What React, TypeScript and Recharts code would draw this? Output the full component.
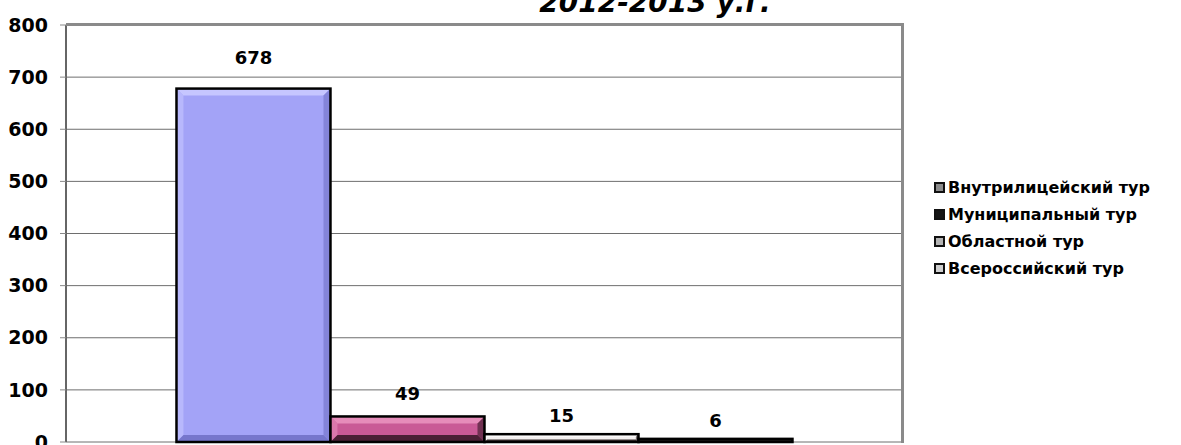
import React from 'react';
import { BarChart, Bar, XAxis, YAxis, CartesianGrid, LabelList } from 'recharts';

const categories = ['2012-2013 у.г.'];
const seriesKeys = ['vnutr', 'munic', 'oblast', 'vseros'];
const seriesNames = ['Внутрилицейский тур', 'Муниципальный тур', 'Областной тур', 'Всероссийский тур'];
const seriesValues = [678, 49, 15, 6];
const yTicks = [0, 100, 200, 300, 400, 500, 600, 700, 800];

// base / highlight / shadow for each bar
const BAR_COLORS = [
  ['#a3a3f7', '#c6c6ff', '#7676cc'],
  ['#c95a96', '#e68cba', '#4a2035'],
  ['#f4f0f0', '#ffffff', '#3a3030'],
  ['#1c1c1c', '#3a3a3a', '#000000'],
];
const LEGEND_ICON = ['#8c8c8c', '#151515', '#b4b4b4', '#cfcfcf'];
const LABEL_OFFSET = [25, 16, 12, 12];

const data = categories.map((name) => {
  const row: Record<string, string | number> = { name };
  seriesKeys.forEach((k, i) => { row[k] = seriesValues[i]; });
  return row;
});

const FONT = '"DejaVu Sans", Arial, sans-serif';

const BevelBar = (props: any) => {
  const { x, y, width: w, height: h, light, dark, base } = props;
  if (!h || h <= 0) return null;
  const b = Math.min(7, h / 3);
  return (
    <g>
      <rect x={x} y={y} width={w} height={h} fill={base} />
      <polygon points={`${x},${y} ${x + w},${y} ${x + w - b},${y + b} ${x + b},${y + b}`} fill={light} />
      <polygon points={`${x},${y} ${x + b},${y + b} ${x + b},${y + h - b} ${x},${y + h}`} fill={light} opacity={0.6} />
      <polygon points={`${x},${y + h} ${x + b},${y + h - b} ${x + w - b},${y + h - b} ${x + w},${y + h}`} fill={dark} />
      <polygon points={`${x + w},${y} ${x + w},${y + h} ${x + w - b},${y + h - b} ${x + w - b},${y + b}`} fill={dark} opacity={0.7} />
      <rect x={x} y={y} width={w} height={h} fill="none" stroke="#000" strokeWidth={2.5} />
    </g>
  );
};

export default function App() {
  return (
    <div style={{ position: 'absolute', left: 0, top: 0, width: 1181, height: 445, overflow: 'hidden', background: '#fff' }}>
      <div
        style={{
          position: 'absolute', left: 455, top: -11, width: 400, textAlign: 'center',
          fontFamily: FONT, fontSize: 28, lineHeight: '28px', fontWeight: 'bold', fontStyle: 'italic', color: '#000',
        }}
      >
        {categories[0]}
      </div>
      <div style={{ position: 'absolute', left: 0, top: 0 }}>
        <BarChart
          width={1181}
          height={445}
          data={data}
          margin={{ top: 25, right: 278, bottom: 3, left: 0 }}
          barCategoryGap="13.2%"
          barGap={0}
        >
          <CartesianGrid vertical={false} stroke="#6e6e6e" strokeWidth={1} />
          <XAxis dataKey="name" hide />
          <YAxis
            width={66}
            domain={[0, 800]}
            ticks={yTicks}
            interval={0}
            tickSize={6}
            tickMargin={12}
            axisLine={{ stroke: '#666', strokeWidth: 2 }}
            tickLine={{ stroke: '#888' }}
            tick={{ fill: '#000', fontSize: 19, fontWeight: 'bold', fontFamily: FONT }}
          />
          {seriesKeys.map((k, i) => (
            <Bar
              key={k}
              dataKey={k}
              name={seriesNames[i]}
              fill={BAR_COLORS[i][0]}
              isAnimationActive={false}
              shape={(p: any) => (
                <BevelBar {...p} base={BAR_COLORS[i][0]} light={BAR_COLORS[i][1]} dark={BAR_COLORS[i][2]} />
              )}
            >
              <LabelList
                dataKey={k}
                position="top"
                offset={LABEL_OFFSET[i]}
                fill="#000"
                style={{ fontSize: 18, fontWeight: 'bold', fontFamily: FONT }}
              />
            </Bar>
          ))}
        </BarChart>
      </div>
      {/* plot frame: top and right edges */}
      <div
        style={{
          position: 'absolute', left: 66, top: 23, width: 838, height: 420, boxSizing: 'border-box',
          borderTop: '3px solid #8a8a8a', borderRight: '3px solid #8a8a8a', pointerEvents: 'none',
        }}
      />
      <div style={{ position: 'absolute', left: 934, top: 174, fontFamily: FONT, fontSize: 16, fontWeight: 'bold', color: '#000' }}>
        {seriesNames.map((n, i) => (
          <div key={n} style={{ display: 'flex', alignItems: 'center', height: 27 }}>
            <span
              style={{
                display: 'inline-block', width: 7, height: 7, border: '2px solid #111', background: LEGEND_ICON[i], marginRight: 3,
              }}
            />
            {n}
          </div>
        ))}
      </div>
    </div>
  );
}
